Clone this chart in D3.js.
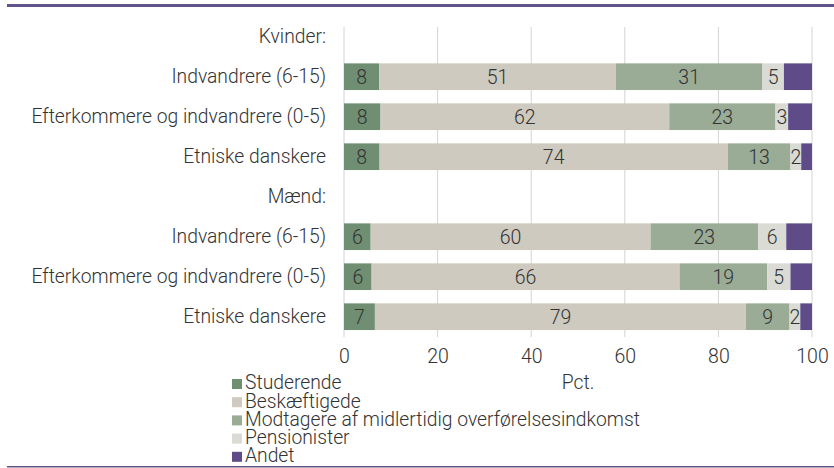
<!DOCTYPE html>
<html>
<head>
<meta charset="utf-8">
<script src="https://cdn.jsdelivr.net/npm/d3@7/dist/d3.min.js"></script>
<style>
  body { margin: 0; background: #fff; }
  svg { display: block; }
  text { font-family: Roboto, "Noto Sans", sans-serif; font-weight: 300; fill: #333; }
</style>
</head>
<body>
<svg id="chart" width="834" height="468"></svg>
<script>
// ---- data ----
const categories = [
  "Kvinder:",
  "Indvandrere (6-15)",
  "Efterkommere og indvandrere (0-5)",
  "Etniske danskere",
  "Mænd:",
  "Indvandrere (6-15)",
  "Efterkommere og indvandrere (0-5)",
  "Etniske danskere"
];
const seriesNames = ["Studerende", "Beskæftigede", "Modtagere af midlertidig overførelsesindkomst", "Pensionister", "Andet"];
const studerende   = [null, 7.5, 7.8, 7.6, null, 5.7, 5.9, 6.6];
const beskaeftigede = [null, 50.6, 61.7, 74.4, null, 59.8, 65.8, 79.3];
const modtagere    = [null, 31.3, 22.7, 13.4, null, 23.0, 18.7, 9.3];
const pensionister = [null, 4.6, 2.7, 2.3, null, 6.0, 5.0, 2.3];
const andet        = [null, 6.0, 5.1, 2.3, null, 5.5, 4.6, 2.5];
const showLabel    = [true, true, true, true, false];
const xTicks = [0, 20, 40, 60, 80, 100];
const xTitle = "Pct.";

const colors = ["#6f8e72", "#cecac0", "#9aab96", "#d9dbd4", "#5f4b88"];
const lineColor = "#62548a";

// ---- layout ----
const svg = d3.select("#chart");
const W = 834, H = 468;
const FS = 19.3;
const x = d3.scaleLinear().domain([0, 100]).range([344, 812]);
const rowIds = categories.map((c, i) => i);
const y = d3.scaleBand().domain(rowIds).range([16.7, 336.7]).paddingInner(1/3).paddingOuter(1/6);

// frame lines
svg.append("rect").attr("x", 7).attr("y", 4).attr("width", W - 7).attr("height", 3).attr("fill", lineColor);
svg.append("rect").attr("x", 7).attr("y", 466).attr("width", W - 7).attr("height", 1.5).attr("fill", lineColor);

// gridlines
svg.append("g").selectAll("line").data(xTicks).join("line")
  .attr("x1", d => x(d)).attr("x2", d => x(d))
  .attr("y1", 27).attr("y2", 337)
  .attr("stroke", "#d4d4d4").attr("stroke-width", 1);

// tick labels via axis
const axisG = svg.append("g").attr("transform", "translate(0,337)")
  .call(d3.axisBottom(x).tickValues(xTicks).tickSize(0).tickPadding(0).tickFormat(d3.format("d")));
axisG.select(".domain").remove();
axisG.selectAll("text").attr("font-size", 19.5).attr("fill", "#333")
  .attr("dy", null).attr("y", 26)
  .style("font-family", "Roboto, sans-serif").style("font-weight", 300);

// category labels
svg.append("g").selectAll("text").data(categories).join("text")
  .attr("x", 326).attr("y", (d, i) => y(i) + y.bandwidth() / 2)
  .attr("dy", "0.35em").attr("text-anchor", "end").attr("font-size", FS)
  .text(d => d);

// stacked bars
const seriesArrays = [studerende, beskaeftigede, modtagere, pensionister, andet];
const table = categories.map((c, i) => {
  const o = { row: i };
  seriesNames.forEach((s, k) => o[s] = seriesArrays[k][i]);
  return o;
}).filter(d => d[seriesNames[0]] != null);

const stack = d3.stack().keys(seriesNames)(table);

const gBars = svg.append("g");
stack.forEach((layer, k) => {
  const g = gBars.append("g");
  g.selectAll("rect").data(layer).join("rect")
    .attr("x", d => x(d[0])).attr("width", d => x(d[1]) - x(d[0]))
    .attr("y", d => y(d.data.row)).attr("height", y.bandwidth())
    .attr("fill", colors[k]);
  if (showLabel[k]) {
    g.selectAll("text").data(layer).join("text")
      .attr("x", d => (x(d[0]) + x(d[1])) / 2)
      .attr("y", d => y(d.data.row) + y.bandwidth() / 2)
      .attr("dy", "0.36em").attr("text-anchor", "middle").attr("font-size", 19.5)
      .text(d => Math.round(d[1] - d[0]));
  }
});

// x title
svg.append("text").attr("x", (x(0) + x(100)) / 2).attr("y", 389).attr("text-anchor", "middle")
  .attr("font-size", FS).text(xTitle);

// legend
const lg = svg.append("g");
seriesNames.forEach((s, k) => {
  lg.append("rect").attr("x", 232).attr("y", 379 + 18.2 * k).attr("width", 10).attr("height", 10).attr("fill", colors[k]);
  lg.append("text").attr("x", 245).attr("y", 389.3 + 18.2 * k).attr("font-size", FS).text(s);
});
</script>
</body>
</html>
